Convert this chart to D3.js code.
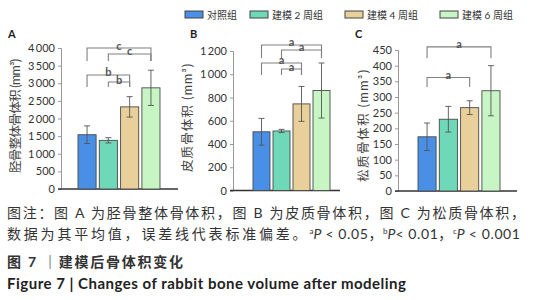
<!DOCTYPE html>
<html>
<head>
<meta charset="utf-8">
<script src="https://cdn.jsdelivr.net/npm/d3@7"></script>
<style>
  body { margin: 0; background: #fff; }
  svg { display: block; font-family: Lato, "Noto Sans CJK SC", sans-serif; }
</style>
</head>
<body>
<script>
const W = 538, H = 300;

const groups = ['对照组', '建模 2 周组', '建模 4 周组', '建模 6 周组'];
const colors = ['#4a8fe6', '#6fd8b8', '#e9d09a', '#c8f5c4'];

// A: whole tibia bone volume
const wholeMean = [1540, 1380, 2330, 2870];
const wholeSD = [250, 75, 290, 500];
const wholeTicks = [0, 500, 1000, 1500, 2000, 2500, 3000, 3500, 4000];
// B: cortical bone volume
const cortMean = [505, 512, 745, 860];
const cortSD = [115, 14, 150, 237];
const cortTicks = [0, 200, 400, 600, 800, 1000, 1200];
// C: cancellous bone volume
const cancMean = [173, 229, 266, 320];
const cancSD = [44, 41, 22, 80];
const cancTicks = [0, 50, 100, 150, 200, 250, 300, 350, 400, 450];

// significance brackets: [from, to, line level, foot level, label]
const wholeSig = [[0, 3, 4000, 3630, 'c'], [1, 3, 3830, 3630, 'c'], [0, 2, 3235, 2895, 'b'], [1, 2, 3035, 2895, 'b']];
const cortSig = [[0, 3, 1252, 1140, 'a'], [1, 3, 1209, 1140, 'a'], [0, 2, 1097, 994, 'a'], [1, 2, 1045, 994, 'a']];
const cancSig = [[0, 3, 460, 424, 'a'], [0, 2, 362, 332, 'a']];

const svg = d3.select('body').append('svg').attr('width', W).attr('height', H);

const fmt = d3.formatLocale({decimal: '.', thousands: '\u2009', grouping: [3]}).format(',');

const panels = [
  {letter: 'A', label: '胫骨整体骨体积 (mm³)', mean: wholeMean, sd: wholeSD, ticks: wholeTicks, sig: wholeSig,
   ax: 61, end: 178, bars: [76.4, 161.6], top: 48, base: 189, labX: 15, labY: 116, labLen: 114, letX: 8},
  {letter: 'B', label: '皮质骨体积 (mm³)', mean: cortMean, sd: cortSD, ticks: cortTicks, sig: cortSig,
   ax: 233, end: 340, bars: [251.5, 331.5], top: 51, base: 190.5, labX: 187, labY: 118, labLen: 108, letX: 190},
  {letter: 'C', label: '松质骨体积 (mm³)', mean: cancMean, sd: cancSD, ticks: cancTicks, sig: cancSig,
   ax: 398, end: 517, bars: [416.4, 501.6], top: 50, base: 191, labX: 363, labY: 126, labLen: 112, letX: 355}
];

panels.forEach(p => {
  const g = svg.append('g');
  const y = d3.scaleLinear().domain([0, d3.max(p.ticks)]).range([p.base, p.top]);
  const x = d3.scaleBand().domain(d3.range(groups.length)).range(p.bars).paddingInner(0.15).paddingOuter(0.075);

  const axis = g.append('g').attr('transform', `translate(${p.ax},0)`)
    .call(d3.axisLeft(y).tickValues(p.ticks).tickFormat(fmt).tickSize(3).tickPadding(3));
  axis.select('.domain').attr('stroke', '#999');
  axis.selectAll('.tick line').attr('stroke', '#999');
  axis.selectAll('.tick text').attr('font-size', 11).attr('fill', '#333').attr('font-family', 'Lato, sans-serif');

  g.append('line').attr('x1', p.ax - 3).attr('x2', p.end).attr('y1', p.base).attr('y2', p.base)
    .attr('stroke', '#333').attr('stroke-width', 1.4);

  g.selectAll('rect.bar').data(p.mean).join('rect').attr('class', 'bar')
    .attr('x', (d, i) => x(i)).attr('width', x.bandwidth())
    .attr('y', d => y(d)).attr('height', d => p.base - y(d))
    .attr('fill', (d, i) => colors[i]).attr('stroke', '#4a4a4a').attr('stroke-width', 0.9);

  const eb = g.selectAll('g.err').data(p.mean).join('g').attr('class', 'err')
    .attr('stroke', '#555').attr('stroke-width', 0.9);
  eb.append('line').attr('x1', (d, i) => x(i) + x.bandwidth() / 2).attr('x2', (d, i) => x(i) + x.bandwidth() / 2)
    .attr('y1', (d, i) => y(d + p.sd[i])).attr('y2', (d, i) => y(d - p.sd[i]));
  [1, -1].forEach(s => {
    eb.append('line').attr('x1', (d, i) => x(i) + x.bandwidth() / 2 - 3).attr('x2', (d, i) => x(i) + x.bandwidth() / 2 + 3)
      .attr('y1', (d, i) => y(d + s * p.sd[i])).attr('y2', (d, i) => y(d + s * p.sd[i]));
  });

  const cx = i => x(i) + x.bandwidth() / 2;
  const br = g.selectAll('g.sig').data(p.sig).join('g').attr('class', 'sig');
  br.append('path')
    .attr('d', d => `M${cx(d[0])},${y(d[3])}V${y(d[2])}H${cx(d[1])}V${y(d[3])}`)
    .attr('fill', 'none').attr('stroke', '#808080').attr('stroke-width', 1.1);
  br.append('text').attr('x', d => (cx(d[0]) + cx(d[1])) / 2).attr('y', d => y(d[2]) + 1.5)
    .attr('text-anchor', 'middle').attr('font-size', 11).attr('font-weight', 'bold').attr('fill', '#555')
    .text(d => d[4]);

  g.append('text').attr('transform', `translate(${p.labX},${p.labY}) rotate(-90)`)
    .attr('text-anchor', 'middle').attr('dominant-baseline', 'central')
    .attr('font-size', 12.5).attr('fill', '#444')
    .attr('textLength', p.labLen).text(p.label);

  g.append('text').attr('x', p.letX).attr('y', 38).attr('font-size', 11).attr('font-weight', 'bold')
    .attr('fill', '#222').text(p.letter);
});

// legend
const legX = [185, 250, 345, 440];
const leg = svg.selectAll('g.leg').data(groups).join('g').attr('class', 'leg')
  .attr('transform', (d, i) => `translate(${legX[i]},11)`);
leg.append('rect').attr('width', 18).attr('height', 7).attr('fill', (d, i) => colors[i])
  .attr('stroke', '#444').attr('stroke-width', 1);
leg.append('text').attr('x', 22).attr('y', 7.5).attr('font-size', 10).attr('fill', '#333').text(d => d);

// caption
const cap = svg.append('g').attr('fill', '#333').attr('font-size', 14);
cap.append('text').attr('x', 7).attr('y', 218).attr('textLength', 518)
  .text('图注：图 A 为胫骨整体骨体积，图 B 为皮质骨体积，图 C 为松质骨体积，');
const l2 = cap.append('text').attr('x', 7).attr('y', 239);
l2.append('tspan').attr('letter-spacing', 2.8).text('数据为其平均值，误差线代表标准偏差。');
[['a', ' < 0.05，'], ['b', '< 0.01，'], ['c', ' < 0.001']].forEach(([s, t]) => {
  l2.append('tspan').attr('font-size', 8).attr('dy', -5).text(s);
  l2.append('tspan').attr('font-style', 'italic').attr('dy', 5).text('P');
  l2.append('tspan').attr('letter-spacing', 0.6).text(t);
});
cap.append('text').attr('x', 7).attr('y', 267).attr('font-weight', 'bold').attr('textLength', 176)
  .text('图 7 ｜建模后骨体积变化');
cap.append('text').attr('x', 7).attr('y', 289).attr('font-weight', 'bold').attr('fill', '#222')
  .attr('font-size', 15).attr('textLength', 399)
  .text('Figure 7  |  Changes of rabbit bone volume after modeling');
</script>
</body>
</html>
